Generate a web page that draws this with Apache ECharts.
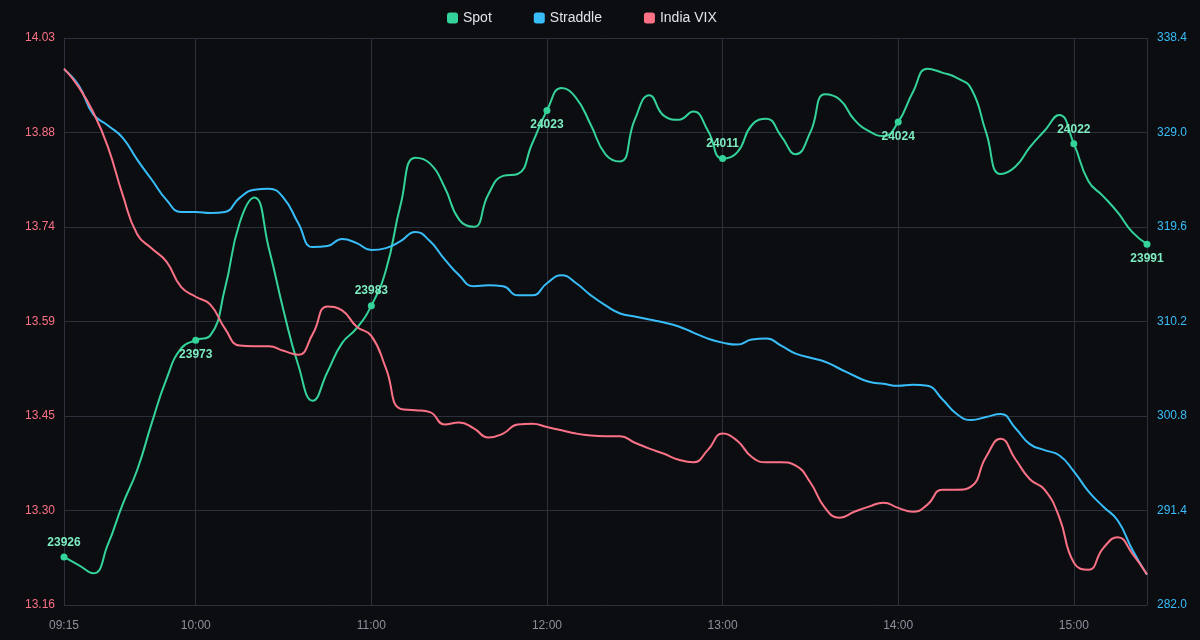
<!DOCTYPE html>
<html>
<head>
<meta charset="utf-8">
<title>Spot / Straddle / India VIX</title>
<script src="https://cdn.jsdelivr.net/npm/echarts@6/dist/echarts.min.js"></script>
<style>
  html, body { margin: 0; padding: 0; background: #0b0d11; }
  #chart { width: 1200px; height: 640px; }
</style>
</head>
<body>
<div id="chart"></div>
<script>
// 5-minute buckets, 09:15 .. 15:25
const times = []
for (let m = 9 * 60 + 15; m <= 15 * 60 + 25; m += 5) {
  times.push(String(Math.floor(m / 60)).padStart(2, '0') + ':' + String(m % 60).padStart(2, '0'))
}

const spot = [
  23926.0, 23924.3, 23922.6, 23928.6, 23936.9, 23944.1, 23953.9, 23963.0, 23969.4, 23971.1,
  23972.1, 23981.9, 23995.5, 24000.8, 23990.2, 23977.3, 23966.0, 23958.5, 23964.5, 23970.5,
  23973.6, 23978.3, 23985.7, 23999.3, 24009.1, 24007.9, 24003.0, 23996.2, 23994.7, 24001.5,
  24005.3, 24005.7, 24012.1, 24018.9, 24023.6, 24021.5, 24015.9, 24009.8, 24008.3, 24017.0,
  24022.1, 24017.8, 24017.0, 24018.7, 24014.7, 24008.9, 24010.2, 24015.9, 24017.2, 24013.6,
  24009.8, 24014.4, 24022.3, 24021.2, 24017.0, 24014.6, 24013.6, 24016.5, 24022.7, 24027.6,
  24026.8, 24025.7, 24023.4, 24014.4, 24005.7, 24007.2, 24011.3, 24014.7, 24018.0, 24012.0,
  24004.2, 24001.1, 23997.7, 23993.6, 23991.1
]

const straddle = [
  335.3, 333.7, 330.8, 329.7, 328.5, 326.3, 324.3, 322.3, 321.1, 321.1,
  321.0, 321.1, 322.5, 323.3, 323.4, 322.5, 320.0, 317.6, 317.7, 318.4,
  318.0, 317.3, 317.5, 318.2, 319.1, 318.2, 316.4, 314.8, 313.7, 313.8,
  313.7, 312.8, 312.8, 314.0, 314.8, 314.0, 312.8, 311.8, 311.0, 310.7,
  310.4, 310.1, 309.7, 309.1, 308.5, 308.1, 307.9, 308.4, 308.5, 307.8,
  307.0, 306.6, 306.2, 305.5, 304.8, 304.2, 304.0, 303.8, 303.9, 303.8,
  302.5, 301.0, 300.4, 300.7, 301.0, 299.6, 298.0, 297.4, 296.9, 295.3,
  293.3, 291.8, 290.4, 287.5, 285.0
]

const vix = [
  13.983, 13.955, 13.916, 13.863, 13.790, 13.729, 13.707, 13.687, 13.648, 13.633,
  13.621, 13.584, 13.558, 13.557, 13.557, 13.550, 13.544, 13.576, 13.618, 13.612,
  13.587, 13.573, 13.523, 13.461, 13.459, 13.456, 13.437, 13.440, 13.431, 13.417,
  13.423, 13.437, 13.438, 13.433, 13.428, 13.423, 13.420, 13.419, 13.419, 13.409,
  13.400, 13.392, 13.383, 13.379, 13.398, 13.423, 13.412, 13.387, 13.379, 13.379,
  13.374, 13.348, 13.309, 13.294, 13.303, 13.311, 13.317, 13.309, 13.303, 13.314,
  13.337, 13.337, 13.342, 13.387, 13.415, 13.384, 13.353, 13.337, 13.295, 13.225,
  13.214, 13.247, 13.264, 13.239, 13.207
]

// hourly spot tags
const spotTagIdx = [0, 9, 21, 33, 45, 57, 69, 74]
const spotTagText = ['23926', '23973', '23983', '24023', '24011', '24024', '24022', '23991']

// axis ticks
const vixTicks = [13.16, 13.305, 13.45, 13.595, 13.74, 13.885, 14.03]
const vixTickLabels = ['13.16', '13.30', '13.45', '13.59', '13.74', '13.88', '14.03']
const straddleTicks = [282.0, 291.4, 300.8, 310.2, 319.6, 329.0, 338.4]

const GREEN = '#34d399'
const BLUE = '#38bdf8'
const RED = '#fb7185'
const GRID = '#2b303b'
const FONT = 'Liberation Sans, Arial, sans-serif'

const showHour = (idx, val) => idx === 0 || val.endsWith(':00')

const myChart = echarts.init(document.getElementById('chart'))

const option = {
  backgroundColor: '#0b0d11',
  animation: false,
  textStyle: { fontFamily: FONT },
  legend: {
    top: 6,
    left: 442,
    icon: 'roundRect',
    itemWidth: 11,
    itemHeight: 11,
    itemGap: 42,
    textStyle: { color: '#dfe2e6', fontSize: 14, fontFamily: FONT },
    data: [
      { name: 'Spot' },
      { name: 'Straddle', textStyle: { width: 67 } },
      { name: 'India VIX' }
    ]
  },
  grid: { left: 64, right: 53, top: 38, bottom: 35, containLabel: false },
  xAxis: {
    type: 'category',
    boundaryGap: false,
    data: times,
    axisLine: { lineStyle: { color: GRID } },
    axisTick: { show: false },
    axisLabel: { color: '#8b919c', fontSize: 12, margin: 15, interval: showHour },
    splitLine: { show: true, interval: showHour, lineStyle: { color: GRID } }
  },
  yAxis: [
    {
      type: 'value',
      position: 'left',
      min: 13.16,
      max: 14.03,
      axisLine: { show: true, lineStyle: { color: GRID } },
      axisTick: { show: false, customValues: vixTicks },
      splitLine: { show: false },
      axisLabel: {
        color: RED,
        fontSize: 12,
        margin: 9,
        customValues: vixTicks,
        formatter: v => vixTickLabels[Math.round((v - 13.16) / 0.145)]
      }
    },
    {
      type: 'value',
      position: 'right',
      min: 282,
      max: 338.4,
      axisLine: { show: true, lineStyle: { color: GRID } },
      axisTick: { show: false, customValues: straddleTicks },
      splitLine: { show: true, lineStyle: { color: GRID } },
      axisLabel: {
        color: BLUE,
        fontSize: 12,
        margin: 10,
        customValues: straddleTicks,
        formatter: v => v.toFixed(1)
      }
    },
    {
      type: 'value',
      show: false,
      min: 23916,
      max: 24034,
      splitLine: { show: false }
    }
  ],
  series: [
    {
      name: 'Spot',
      type: 'line',
      yAxisIndex: 2,
      data: spot,
      smooth: true,
      showSymbol: false,
      color: GREEN,
      lineStyle: { width: 2 },
      markPoint: {
        symbol: 'circle',
        symbolSize: 7,
        itemStyle: { color: GREEN },
        label: { show: true, color: '#7eecc0', fontSize: 12, fontWeight: 'bold', formatter: '{c}' },
        data: spotTagIdx.map((idx, k) => ({
          coord: [idx, spot[idx]],
          value: spotTagText[k],
          label: { position: k % 2 === 0 ? 'top' : 'bottom', distance: 5 }
        }))
      }
    },
    {
      name: 'Straddle',
      type: 'line',
      yAxisIndex: 1,
      data: straddle,
      smooth: true,
      showSymbol: false,
      color: BLUE,
      lineStyle: { width: 2 }
    },
    {
      name: 'India VIX',
      type: 'line',
      yAxisIndex: 0,
      data: vix,
      smooth: true,
      showSymbol: false,
      color: RED,
      lineStyle: { width: 2 }
    }
  ]
}

myChart.setOption(option)
</script>
</body>
</html>
